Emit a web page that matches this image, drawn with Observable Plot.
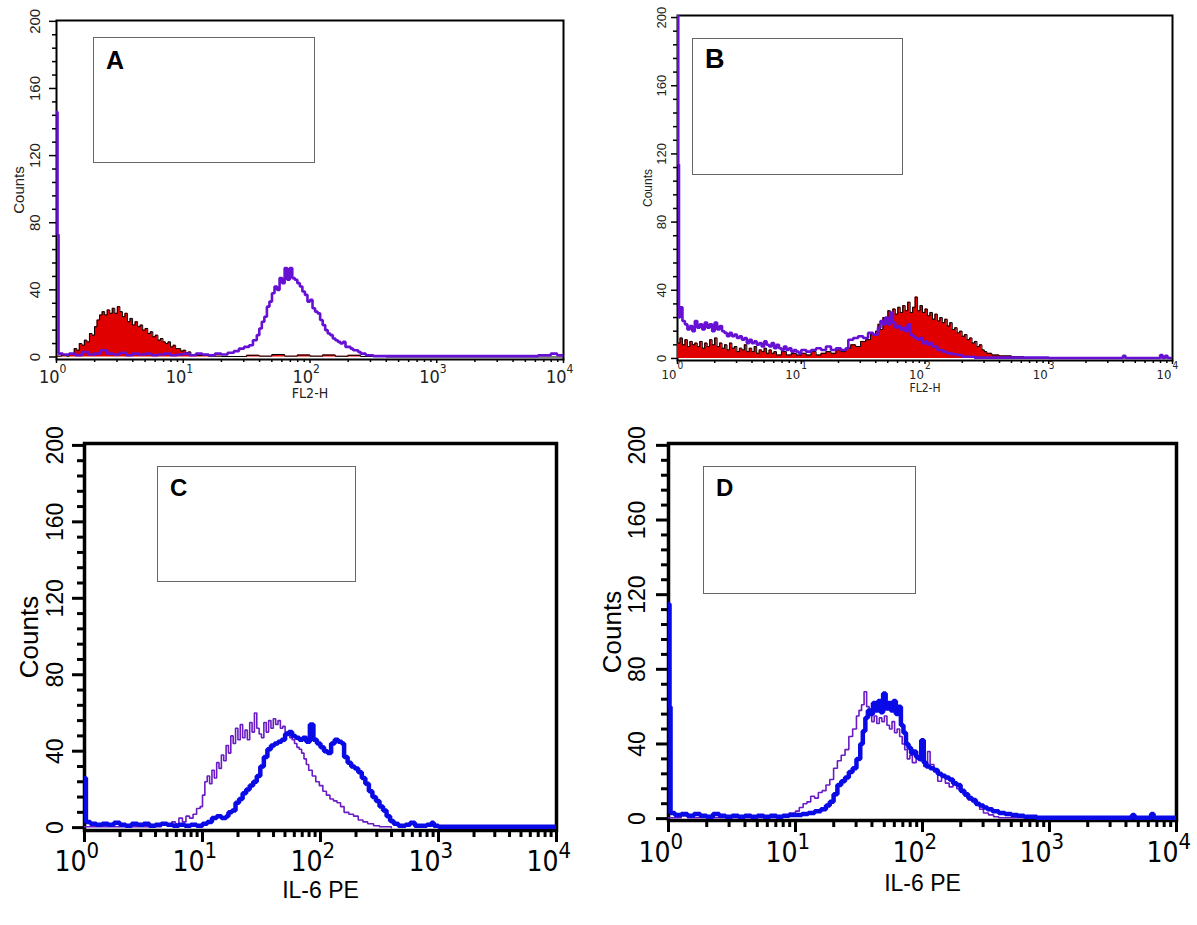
<!DOCTYPE html>
<html>
<head>
<meta charset="utf-8">
<script src="https://cdn.jsdelivr.net/npm/d3@7"></script>
<script src="https://cdn.jsdelivr.net/npm/@observablehq/plot@0.6"></script>
<style>
  html, body { margin: 0; padding: 0; background: #fff; }
  #fig { position: relative; width: 1197px; height: 925px; background: #fff; overflow: hidden; }
  .panel { position: absolute; }
  .inset { position: absolute; border: 1.5px solid #666; box-sizing: border-box; }
  .inset span { position: absolute; font-family: 'Liberation Sans', Arial, sans-serif; font-weight: bold; line-height: 1; color: #000; }
</style>
</head>
<body>
<div id="fig"></div>
<script>
// ---------------- DATA: [log10 channel position (decade exponent), count] ----------------
const aRed = [[0,0.5],[0.04,1],[0.08,0.5],[0.1,1.5],[0.12,2],[0.14,5],[0.16,4],[0.18,8],[0.2,7],[0.22,10],[0.24,9],[0.26,14],[0.28,13],[0.3,18],[0.32,22],[0.34,25],[0.36,27],[0.38,25],[0.4,28],[0.42,26],[0.44,29],[0.46,26],[0.48,30],[0.5,27],[0.52,24],[0.54,26],[0.56,21],[0.58,23],[0.6,19],[0.62,21],[0.64,18],[0.66,19],[0.68,16],[0.7,17],[0.72,14],[0.74,15],[0.76,12],[0.78,13],[0.8,10],[0.82,11],[0.84,9],[0.86,8],[0.88,9],[0.9,6],[0.92,7],[0.94,5],[0.96,5],[0.98,3.5],[1,4],[1.02,2.5],[1.04,3],[1.06,1.5],[1.1,1],[1.2,0.5],[1.3,0.3],[1.5,1],[1.6,0.5],[1.7,1.5],[1.8,0.5],[1.9,1.2],[2,0.5],[2.1,1.2],[2.2,0.4],[2.3,1],[2.4,0.3],[2.6,0],[4,0]];
const aPurple = [[0,146],[0.008,73],[0.016,2],[0.05,1.5],[0.1,2],[0.15,1],[0.2,3],[0.25,1.5],[0.3,2],[0.35,4],[0.4,2],[0.45,1.5],[0.5,2.5],[0.55,1],[0.6,2],[0.65,1.5],[0.7,2],[0.75,1],[0.8,1.5],[0.85,2],[0.9,1],[0.95,1.5],[1,2],[1.05,1],[1.1,2],[1.15,1.5],[1.2,1],[1.25,2],[1.3,1.5],[1.35,2.5],[1.4,3.5],[1.44,5],[1.48,6],[1.52,7],[1.55,10],[1.58,13],[1.6,17],[1.62,21],[1.64,24],[1.66,30],[1.68,33],[1.7,38],[1.72,42],[1.74,40],[1.76,47],[1.78,44],[1.8,53],[1.82,46],[1.84,53],[1.86,47],[1.88,46],[1.9,44],[1.92,42],[1.94,39],[1.96,37],[1.98,33],[2,34],[2.02,29],[2.04,27],[2.06,26],[2.08,22],[2.1,19],[2.12,16],[2.14,14],[2.16,13],[2.18,11],[2.2,10],[2.22,9],[2.24,8],[2.26,9],[2.28,6],[2.3,6],[2.32,5],[2.34,4],[2.36,4],[2.38,3],[2.4,2],[2.44,1],[2.5,0.5],[3,0.5],[3.5,0.5],[3.8,1],[3.9,2],[3.95,1],[4,0.5]];

const bRed = [[0,9],[0.02,12],[0.04,8],[0.06,11],[0.08,7],[0.1,10],[0.12,8],[0.14,9],[0.16,7],[0.18,10],[0.2,6],[0.22,9],[0.24,7],[0.26,11],[0.28,8],[0.3,12],[0.32,7],[0.34,9],[0.36,6],[0.38,8],[0.4,5],[0.42,9],[0.44,6],[0.46,7],[0.48,4],[0.5,6],[0.52,5],[0.54,8],[0.56,4],[0.58,6],[0.6,4],[0.62,7],[0.64,3],[0.66,5],[0.68,4],[0.7,6],[0.72,3],[0.74,5],[0.76,3],[0.78,4],[0.8,2],[0.84,4],[0.88,2],[0.92,3],[0.96,2],[1,3],[1.04,2],[1.08,4],[1.12,2],[1.16,3],[1.2,4],[1.24,3],[1.28,5],[1.32,4],[1.36,6],[1.4,8],[1.44,7],[1.48,10],[1.52,11],[1.56,14],[1.6,16],[1.62,20],[1.64,17],[1.66,24],[1.68,21],[1.7,28],[1.72,25],[1.74,29],[1.76,26],[1.78,30],[1.8,27],[1.82,31],[1.84,28],[1.86,33],[1.88,27],[1.9,30],[1.92,36],[1.94,28],[1.96,31],[1.98,27],[2,29],[2.02,25],[2.04,27],[2.06,23],[2.08,26],[2.1,22],[2.12,24],[2.14,21],[2.16,23],[2.18,19],[2.2,21],[2.22,17],[2.24,18],[2.26,15],[2.28,16],[2.3,13],[2.32,14],[2.34,11],[2.36,12],[2.38,9],[2.4,10],[2.42,7],[2.44,8],[2.46,5],[2.48,4],[2.5,3],[2.54,2],[2.6,1.5],[2.7,1],[2.8,0.5],[3,0.3],[4,0]];
const bPurple = [[0,230],[0.006,114],[0.012,24],[0.02,30],[0.04,22],[0.06,20],[0.08,17],[0.1,19],[0.12,16],[0.14,22],[0.16,18],[0.18,20],[0.2,17],[0.22,21],[0.24,18],[0.26,20],[0.28,16],[0.3,21],[0.32,17],[0.34,19],[0.36,16],[0.38,15],[0.4,13],[0.42,15],[0.44,13],[0.46,14],[0.48,12],[0.5,13],[0.52,11],[0.54,12],[0.56,9],[0.58,11],[0.6,9],[0.62,10],[0.64,8],[0.66,9],[0.68,7],[0.7,10],[0.72,8],[0.74,7],[0.76,9],[0.78,6],[0.8,8],[0.82,6],[0.84,5],[0.86,7],[0.88,5],[0.9,6],[0.92,4],[0.94,5],[0.96,4],[0.98,3],[1,5],[1.04,4],[1.08,5],[1.12,6],[1.16,5],[1.2,7],[1.24,5],[1.28,6],[1.32,5],[1.36,6],[1.38,11],[1.42,12],[1.46,13],[1.5,12],[1.54,15],[1.58,14],[1.62,18],[1.64,22],[1.66,20],[1.68,24],[1.7,20],[1.72,27],[1.74,21],[1.76,18],[1.78,19],[1.8,17],[1.82,18],[1.84,16],[1.86,20],[1.88,14],[1.9,13],[1.92,12],[1.94,11],[1.96,12],[1.98,9],[2,10],[2.02,8],[2.04,9],[2.06,7],[2.08,7],[2.1,5],[2.14,4],[2.18,3],[2.22,2.5],[2.26,2],[2.3,1],[2.4,0.5],[2.6,0.5],[3,0.3],[3.4,0.3],[3.6,1.5],[3.62,0.3],[3.9,2],[3.92,0.3],[3.94,1.5],[3.96,0.3],[4,0]];

const cBlue = [[0,26],[0.012,3],[0.05,2],[0.1,1.5],[0.15,2],[0.2,1.5],[0.25,2.5],[0.3,1.5],[0.35,1],[0.4,2],[0.45,1.5],[0.5,2],[0.55,1],[0.6,1.5],[0.65,2],[0.7,1.5],[0.75,1],[0.8,1.5],[0.85,1],[0.9,1.5],[0.95,1],[1,2],[1.04,3],[1.08,5],[1.12,6],[1.16,5],[1.2,6],[1.22,8],[1.25,9],[1.28,13],[1.31,15],[1.34,18],[1.37,20],[1.4,22],[1.43,24],[1.46,27],[1.49,32],[1.52,37],[1.55,41],[1.58,43],[1.61,44],[1.64,45],[1.67,46],[1.7,49],[1.73,50],[1.76,48],[1.79,47],[1.82,46],[1.85,47],[1.88,45],[1.91,54],[1.94,46],[1.97,44],[2,42],[2.03,40],[2.06,39],[2.09,44],[2.12,46],[2.15,45],[2.18,44],[2.2,37],[2.23,34],[2.26,32],[2.29,31],[2.32,29],[2.35,26],[2.38,23],[2.41,19],[2.44,16],[2.47,14],[2.5,11],[2.53,9],[2.56,6],[2.59,3.5],[2.62,2],[2.66,1],[2.72,1.5],[2.76,2.5],[2.8,1],[2.9,1.5],[2.94,2.5],[2.96,1],[3,0.5],[4,0.5]];
const cPurple = [[0,0.5],[0.5,0.5],[0.55,1.5],[0.6,0.5],[0.65,2],[0.7,1],[0.74,3],[0.77,2],[0.8,5],[0.83,3],[0.86,6],[0.89,5],[0.92,7],[0.95,10],[0.98,11],[1,17],[1.02,24],[1.04,27],[1.06,23],[1.08,30],[1.1,26],[1.12,34],[1.14,31],[1.16,38],[1.18,35],[1.2,43],[1.22,39],[1.24,48],[1.26,44],[1.28,52],[1.3,46],[1.32,54],[1.34,47],[1.36,51],[1.38,46],[1.4,55],[1.42,50],[1.44,60],[1.46,52],[1.48,49],[1.5,47],[1.52,55],[1.54,50],[1.56,56],[1.58,52],[1.6,57],[1.62,54],[1.64,56],[1.66,52],[1.68,53],[1.7,50],[1.72,49],[1.74,47],[1.76,46],[1.78,44],[1.8,42],[1.82,41],[1.84,39],[1.86,36],[1.88,33],[1.9,30],[1.93,27],[1.96,24],[1.99,22],[2.02,19],[2.05,17],[2.08,15],[2.11,14],[2.14,13],[2.17,11],[2.2,8],[2.24,7],[2.28,6],[2.32,4],[2.36,3],[2.4,2],[2.45,1],[2.5,0.5],[2.6,0]];

const dBlue = [[0,115],[0.008,60],[0.016,3],[0.05,2],[0.1,2.5],[0.15,1.5],[0.2,2.5],[0.25,1.5],[0.3,1],[0.35,2.5],[0.4,1.5],[0.45,1],[0.5,1.5],[0.55,1],[0.6,1.5],[0.65,1],[0.7,1.5],[0.75,1],[0.8,1.5],[0.85,1],[0.9,1.5],[0.95,2],[1,2],[1.05,2.5],[1.1,3],[1.15,4],[1.2,5],[1.24,7],[1.27,9],[1.3,13],[1.33,18],[1.36,20],[1.39,22],[1.42,25],[1.45,27],[1.48,32],[1.51,40],[1.53,47],[1.55,54],[1.57,58],[1.59,56],[1.61,62],[1.63,58],[1.65,63],[1.67,57],[1.69,67],[1.71,59],[1.73,62],[1.75,58],[1.77,63],[1.79,56],[1.81,60],[1.83,50],[1.85,46],[1.87,40],[1.89,38],[1.91,35],[1.93,36],[1.95,33],[1.97,32],[1.99,42],[2.01,30],[2.03,28],[2.06,27],[2.09,26],[2.12,24],[2.15,23],[2.18,22],[2.21,21],[2.24,19],[2.27,18],[2.3,15],[2.33,13],[2.36,11],[2.39,10],[2.42,8],[2.45,7],[2.48,6],[2.51,5],[2.55,4],[2.6,3],[2.65,2.5],[2.7,2],[2.75,1.5],[2.8,1],[2.9,0.5],[3.6,0.5],[3.65,2],[3.67,0.5],[3.8,2.5],[3.82,0.5],[4,0.5]];
const dPurple = [[0,0.5],[0.1,1.5],[0.15,0.5],[0.6,0.5],[0.9,1],[0.95,3],[1,4],[1.03,6],[1.06,8],[1.09,9],[1.12,12],[1.15,11],[1.18,14],[1.21,15],[1.24,18],[1.27,21],[1.3,27],[1.33,31],[1.36,34],[1.39,37],[1.42,44],[1.45,48],[1.48,55],[1.5,58],[1.52,61],[1.54,68],[1.56,60],[1.58,56],[1.6,52],[1.62,55],[1.64,51],[1.66,54],[1.68,52],[1.7,55],[1.72,50],[1.74,48],[1.76,52],[1.78,46],[1.8,48],[1.82,44],[1.84,40],[1.86,37],[1.88,32],[1.9,34],[1.92,30],[1.95,33],[1.98,31],[2.01,28],[2.04,36],[2.06,29],[2.09,25],[2.12,20],[2.15,22],[2.18,19],[2.21,17],[2.24,18],[2.27,16],[2.3,14],[2.33,12],[2.36,10],[2.39,9],[2.42,7],[2.45,5],[2.48,3],[2.52,2],[2.56,1],[2.6,0.5],[4,0]];

// tick values / labels
const yMajor = [0, 40, 80, 120, 160, 200];
const yMinor = [8,16,24,32,48,56,64,72,88,96,104,112,128,136,144,152,168,176,184,192];
const xMajor = [1, 10, 100, 1000, 10000];
const xMinor = [2,3,4,5,6,7,8,9,20,30,40,50,60,70,80,90,200,300,400,500,600,700,800,900,2000,3000,4000,5000,6000,7000,8000,9000];
const yTitle = "Counts";
const xTitleTop = "FL2-H";
const xTitleBottom = "IL-6 PE";
const panelLetters = ["A", "B", "C", "D"];

// ---------------- STYLES ----------------
const REG = "'Liberation Sans', Arial, sans-serif";
const NAR = "'Liberation Sans Narrow', 'DejaVu Sans Condensed', 'Liberation Sans', sans-serif";
const RED = "#e00000", PURPLE = "#6610d4", PURPLE_THIN = "#6a1cc4", BLUE = "#0a0ae6";

const rows = arr => arr.map(([e, c]) => ({x: 10 ** e, y: c}));

function panel(cfg) {
  const t = cfg.text;
  const marks = [
    Plot.frame({stroke: "#000", strokeWidth: cfg.frameW}),
    Plot.axisY(yMajor, {anchor: "left", tickSize: cfg.yMajT, strokeWidth: cfg.tickW, tickFormat: () => "", label: null}),
    Plot.axisY(yMinor, {anchor: "left", tickSize: cfg.yMinT, strokeWidth: cfg.tickW, tickFormat: () => "", label: null}),
    Plot.axisX(xMajor, {anchor: "bottom", tickSize: cfg.xMajT, strokeWidth: cfg.tickW, tickFormat: () => "", label: null}),
    Plot.axisX(xMinor, {anchor: "bottom", tickSize: cfg.xMinT, strokeWidth: cfg.tickW, tickFormat: () => "", label: null})
  ];
  for (const s of cfg.series) {
    const data = rows(s.data);
    if (s.kind === "area") {
      marks.push(Plot.areaY(data, {x: "x", y: "y", curve: "step-after", fill: s.fill, clip: true}));
      marks.push(Plot.line(data, {x: "x", y: "y", curve: "step-after", stroke: s.stroke, strokeWidth: s.width, clip: true}));
    } else {
      marks.push(Plot.line(data, {x: "x", y: "y", curve: "step-after", stroke: s.stroke, strokeWidth: s.width, strokeLinejoin: "miter", clip: true}));
    }
  }
  marks.push(
    Plot.text(yMajor, {y: d => d, frameAnchor: "left", dx: t.yDx, rotate: -90, text: d => String(d),
      textAnchor: "middle", lineAnchor: "middle", fontSize: t.ySize, fontFamily: REG, fill: t.color}),
    Plot.text([yTitle], {frameAnchor: "left", dx: t.cDx, rotate: -90, text: d => d,
      textAnchor: "middle", lineAnchor: "middle", fontSize: t.cSize, fontFamily: REG, fill: t.color}),
    Plot.text(xMajor, {x: d => d, frameAnchor: "bottom", dx: t.bDx, dy: t.bDy, text: () => "10",
      textAnchor: "end", lineAnchor: "middle", fontSize: t.bSize, fontFamily: NAR, fill: t.color}),
    Plot.text(xMajor, {x: d => d, frameAnchor: "bottom", dx: t.eDx, dy: t.eDy, text: d => String(Math.round(Math.log10(d))),
      textAnchor: "start", lineAnchor: "middle", fontSize: t.eSize, fontFamily: NAR, fill: t.color}),
    Plot.text([cfg.xTitle], {frameAnchor: "bottom", dy: t.xDy, text: d => d,
      textAnchor: "middle", lineAnchor: "middle", fontSize: t.xSize, fontFamily: t.xFont, fill: t.color})
  );
  const svg = Plot.plot({
    width: cfg.w, height: cfg.h,
    marginLeft: cfg.mL, marginRight: cfg.mR, marginTop: cfg.mT, marginBottom: cfg.mB,
    x: {type: "log", domain: [1, 10000], axis: null},
    y: {domain: cfg.yDomain, axis: null},
    style: {background: "transparent", overflow: "visible"},
    marks
  });
  svg.classList.add("panel");
  svg.style.left = cfg.left + "px";
  svg.style.top = cfg.top + "px";
  svg.style.position = "absolute";
  return svg;
}

const fig = document.getElementById("fig");

const panels = [
  {left: 0, top: 0, w: 600, h: 410, mL: 56, mR: 37, mT: 20, mB: 51, yDomain: [-1.5, 200.5],
   frameW: 2, tickW: 1.5, yMajT: 7, yMinT: 4, xMajT: 4, xMinT: 3, xTitle: xTitleTop,
   text: {color: "#222", yDx: -21, ySize: 15, cDx: -37, cSize: 15, bDx: 3, bDy: 18, bSize: 18, eDx: 3, eDy: 10, eSize: 12, xDy: 34, xSize: 14, xFont: NAR},
   series: [
     {kind: "area", data: aRed, fill: RED, stroke: "#000", width: 1},
     {kind: "line", data: aPurple, stroke: PURPLE, width: 2.6}
   ]},
  {left: 600, top: 0, w: 597, h: 410, mL: 77, mR: 25, mT: 15, mB: 50, yDomain: [-1.2, 201.2],
   frameW: 2, tickW: 1.5, yMajT: 6, yMinT: 4, xMajT: 4, xMinT: 3, xTitle: xTitleTop,
   text: {color: "#222", yDx: -16, ySize: 13, cDx: -29, cSize: 12, bDx: -1, bDy: 14, bSize: 13, eDx: 0, eDy: 5, eSize: 10, xDy: 28, xSize: 12, xFont: NAR},
   series: [
     {kind: "area", data: bRed, fill: RED, stroke: "#000", width: 1},
     {kind: "line", data: bPurple, stroke: PURPLE, width: 2.6}
   ]},
  {left: 0, top: 420, w: 600, h: 505, mL: 84, mR: 44, mT: 23, mB: 95, yDomain: [-1.5, 201],
   frameW: 3.5, tickW: 3, yMajT: 12, yMinT: 7, xMajT: 12, xMinT: 7, xTitle: xTitleBottom,
   text: {color: "#000", yDx: -29, ySize: 23, cDx: -55, cSize: 26, bDx: 2, bDy: 32, bSize: 28, eDx: 2, eDy: 20, eSize: 22, xDy: 60, xSize: 23, xFont: REG},
   series: [
     {kind: "line", data: cPurple, stroke: PURPLE_THIN, width: 1.6},
     {kind: "line", data: cBlue, stroke: BLUE, width: 4.5}
   ]},
  {left: 600, top: 420, w: 597, h: 505, mL: 68, mR: 21, mT: 23, mB: 105, yDomain: [-1, 201],
   frameW: 3.5, tickW: 3, yMajT: 12, yMinT: 7, xMajT: 12, xMinT: 7, xTitle: xTitleBottom,
   text: {color: "#000", yDx: -31, ySize: 23, cDx: -56, cSize: 26, bDx: 2, bDy: 33, bSize: 28, eDx: 2, eDy: 21, eSize: 22, xDy: 63, xSize: 23, xFont: REG},
   series: [
     {kind: "line", data: dPurple, stroke: PURPLE_THIN, width: 1.6},
     {kind: "line", data: dBlue, stroke: BLUE, width: 4.5}
   ]}
];

panels.forEach(p => fig.appendChild(panel(p)));

// inset (empty legend) boxes with panel letters
const insets = [
  {left: 93, top: 37, w: 222, h: 126, lx: 12, ly: 10, size: 25},
  {left: 692, top: 38, w: 211, h: 137, lx: 12, ly: 7, size: 27},
  {left: 157, top: 466, w: 199, h: 116, lx: 12, ly: 9, size: 24},
  {left: 703, top: 466, w: 213, h: 128, lx: 12, ly: 9, size: 24}
];
insets.forEach((b, i) => {
  const div = document.createElement("div");
  div.className = "inset";
  Object.assign(div.style, {left: b.left + "px", top: b.top + "px", width: b.w + "px", height: b.h + "px"});
  const span = document.createElement("span");
  span.textContent = panelLetters[i];
  Object.assign(span.style, {left: b.lx + "px", top: b.ly + "px", fontSize: b.size + "px"});
  div.appendChild(span);
  fig.appendChild(div);
});
</script>
</body>
</html>
